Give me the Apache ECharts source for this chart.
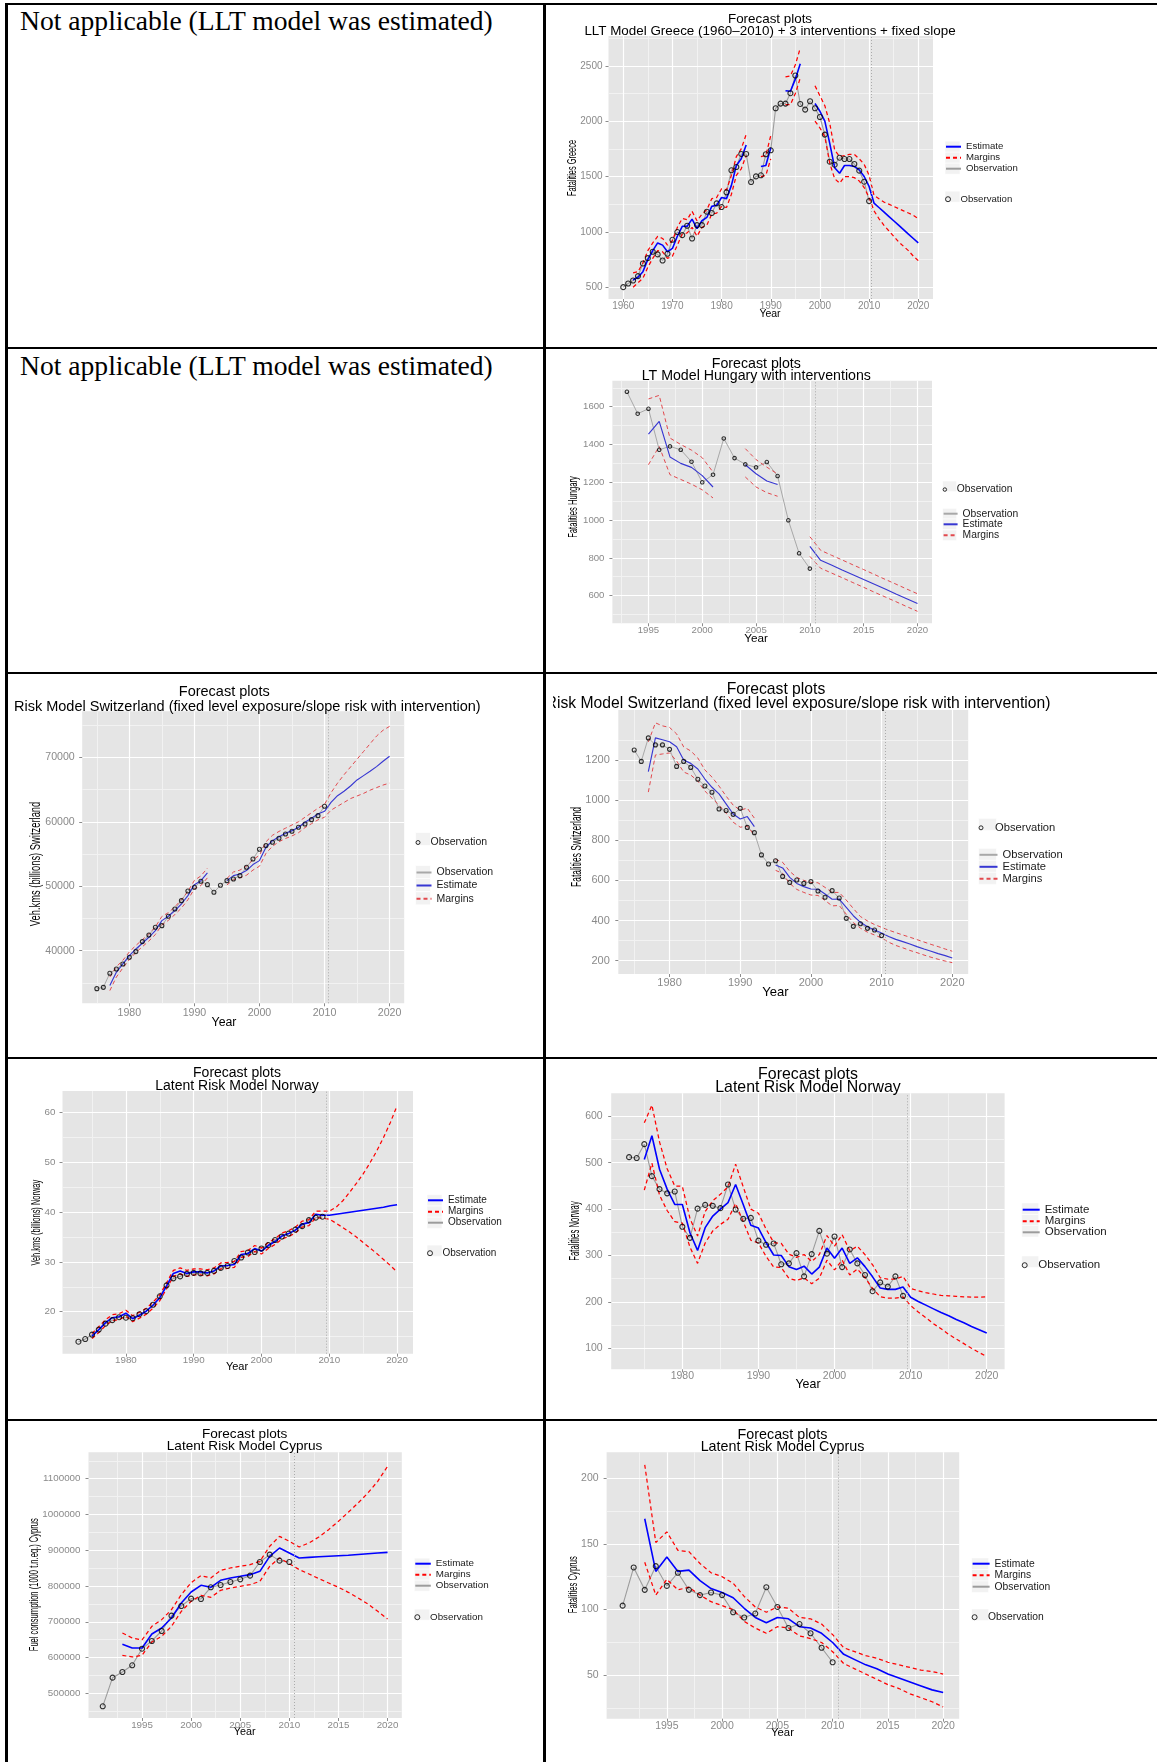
<!DOCTYPE html>
<html><head><meta charset="utf-8">
<script src="https://cdn.jsdelivr.net/npm/echarts@6/dist/echarts.min.js"></script>
<style>
html,body{margin:0;padding:0;background:#fff;}
#page{position:relative;width:1157px;height:1762px;overflow:hidden;background:#fff;}
.ln{position:absolute;background:#000;z-index:5;}
.cell-text{position:absolute;font-family:'Liberation Serif','Times New Roman',serif;font-size:27.6px;line-height:27.6px;color:#000;white-space:nowrap;}
.chart{position:absolute;background:#fff;overflow:hidden;}
</style></head><body><div id="page"></div>
<script>
// ---------------- DATA ----------------
const noteText = 'Not applicable (LLT model was estimated)';
const obsName = 'Observation', estName = 'Estimate', marName = 'Margins';

// Greece fatalities (years from 1960)
const greeceStart = 1960;
const greeceObs = [500,533,560,600,714,762,820,796,741,802, 928,998,970,1055,940,1061,1061,1182,1170,1257,
  1224,1357,1556,1586,1704,1704,1450,1501,1511,1701, 1737,2117,2159,2159,2253,2413,2156,2105,2180,2117,
  2038,1879,1634,1607,1670,1658,1658,1613,1553,1453, 1278];
const greeceEst = [null,null,565,590,640,750,830,900,880,820, 850,960,1050,1050,1115,1030,1100,1130,1230,1240,
  1310,1300,1420,1600,1660,1785,null,null,1590,1600, 1760,null,null,2275,2270,2380,2520,null,null,2160,
  2090,2000,1800,1580,1530,1600,1600,1590,1560,1500, 1410,1260,1220,1180,1140,1100,1060,1020,980,940, 900];
const greeceUp = [null,null,630,640,720,830,900,960,940,880, 920,1040,1120,1110,1185,1100,1160,1200,1300,1310,
  1390,1380,1510,1680,1750,1880,null,null,1680,1690, 1870,null,null,2400,2410,2510,2660,null,null,2320,
  2230,2140,1980,1740,1680,1690,1700,1700,1660,1610, 1510,1330,1300,1270,1250,1230,1210,1190,1170,1150, 1120];
const greeceLo = [null,null,500,540,580,680,760,830,820,760, 780,880,980,990,1040,960,1040,1060,1160,1170,
  1230,1220,1340,1510,1570,1690,null,null,1500,1510, 1660,null,null,2150,2150,2250,2390,null,null,2000,
  1940,1860,1620,1480,1440,1500,1500,1490,1460,1400, 1310,1190,1120,1060,1010,960,910,870,830,780, 740];
const greeceXTicks = [1960,1970,1980,1990,2000,2010,2020];
const greeceYTicks = [500,1000,1500,2000,2500];

// Hungary fatalities (years from 1993)
const hungaryStart = 1993;
const hungaryObs = [1679,1563,1589,1372,1390,1372,1309,1200,1240,1432, 1328,1295,1279,1307,1233,999,824,743];
const hungaryEst = [null,null,1455,1522,1334,1300,1279,1235,1175,null, null,1293,1245,1207,1188,null,null,861,787,762, 736,711,685,660,635,609,584,558];
const hungaryUp  = [null,null,1641,1660,1434,1400,1370,1330,1254,null, null,1378,1320,1280,1244,null,null,912,840,814, 789,763,738,712,686,661,635,610];
const hungaryLo  = [null,null,1293,1390,1240,1215,1190,1160,1117,null, null,1228,1175,1145,1126,null,null,808,745,720, 695,669,644,618,593,568,542,517];
const hungaryXTicks = [1995,2000,2005,2010,2015,2020];
const hungaryYTicks = [600,800,1000,1200,1400,1600];

// Switzerland (years from 1975)
const swissStart = 1975;
const swissKmObs = [34100,34300,36500,37150,37930,38970,39850,41400,42430,43620, 43880,45330,46470,47760,49260,49830,50760,50240,49050,50140,
  50860,51120,51640,52930,54230,55730,56300,56810,57430,58100, 58520,59140,59660,60330,60950,62400];
const swissKmEst = [null,null,34570,36640,37930,39220,40260,41140,42070,43100, 44660,45330,46210,47240,48540,50240,50860,52050,null,null,
  50860,51640,51900,52420,53350,53970,56040,57070,57690,58210, 58620,59140,59920,60540,61210,61620,63020,64050,64730,65550, 66490,67160,67830,68560,69380,70160];
const swissKmUp = [null,null,35900,37500,38500,39800,40800,41700,42600,43700, 45300,45900,46800,47900,49200,50900,51600,52800,null,null,
  51200,52200,52500,53100,54100,54800,56900,57900,58500,59000, 59500,60000,60700,61400,62100,62700,64500,66000,67300,68500, 69700,70900,72100,73300,74200,74800];
const swissKmLo = [null,null,33800,35900,37300,38600,39700,40600,41500,42500, 44000,44700,45600,46600,47900,49600,50100,51300,null,null,
  50200,51000,51300,51700,52500,53100,55100,56200,56900,57400, 57800,58300,59100,59700,60300,60700,61800,62400,63000,63600, 64000,64400,64900,65300,65700,66000];
const swissFatObs = [1250,1193,1310,1275,1275,1253,1168,1193,1163,1104, 1070,1039,956,948,929,959,864,838,727,682,
  698,620,590,602,585,594,547,516,549,512, 411,371,384,361,353,325];
const swissFatEst = [null,null,1142,1310,1301,1291,1266,1200,1183,1155, 1105,1064,1031,981,931,906,918,868,null,null,
  677,662,615,585,569,557,556,532,506,507, 466,424,391,369,353,338,320,306,295,283, 270,258,247,235,225,213];
const swissFatUp = [null,null,1290,1385,1370,1362,1330,1265,1245,1210, 1150,1115,1070,1020,975,950,960,910,null,null,
  705,690,645,615,600,590,588,565,540,540, 502,460,420,398,380,366,352,340,328,317, 305,293,281,270,258,247];
const swissFatLo = [null,null,1040,1225,1230,1235,1195,1140,1125,1095, 1045,1010,975,935,890,865,870,825,null,null,
  650,635,585,555,540,527,525,500,473,475, 432,390,362,342,328,313,292,276,264,251, 240,228,217,207,198,190];
const swissXTicks = [1980,1990,2000,2010,2020];
const swissKmYTicks = [40000,50000,60000,70000];
const swissFatYTicks = [200,400,600,800,1000,1200];

// Norway (years from 1973)
const norwayStart = 1973;
const norwayKmObs = [13.97,14.5,15.4,16.4,17.6,18.3,18.9,18.8,18.7,19.5, 20.1,21.4,23.1,25.3,26.7,27.1,27.6,27.8,27.7,27.8,
  28.2,28.8,29.2,30.2,30.9,31.9,32.0,32.7,33.4,34.4, 35.1,35.7,36.5,37.2,38.4,38.9,39.1];
const norwayKmEst = [null,null,15.1,16.4,17.8,18.8,19.0,19.7,18.6,19.3, 20.1,21.3,22.8,25.2,27.7,28.2,27.7,28.0,28.0,27.8,
  28.2,29.2,29.3,29.5,31.5,31.7,32.7,32.2,33.3,34.1, 35.2,35.7,36.4,37.6,37.9,39.6,39.4,39.4,39.6,39.8, 40.0,40.2,40.4,40.6,40.8,41.0,41.3,41.5];
const norwayKmUp = [null,null,15.6,17.0,18.4,19.4,19.6,20.3,19.2,19.9, 20.7,21.9,23.4,25.8,28.3,28.8,28.3,28.6,28.6,28.4,
  28.8,29.8,29.9,30.1,32.1,32.3,33.3,32.8,33.9,34.7, 35.8,36.3,37.0,38.2,38.5,40.2,40.2,40.2,41.0,42.3, 44.0,45.8,47.7,49.9,52.3,55.0,58.0,61.4];
const norwayKmLo = [null,null,14.6,15.8,17.2,18.2,18.4,19.1,18.0,18.7, 19.5,20.7,22.2,24.6,27.1,27.6,27.1,27.4,27.4,27.2,
  27.6,28.6,28.7,28.9,30.9,31.1,32.1,31.6,32.7,33.5, 34.6,35.1,35.8,37.0,37.3,38.9,38.8,38.6,37.8,36.9, 36.0,35.0,33.9,32.8,31.7,30.5,29.3,28.0];
const norwayFatObs = [512,510,540,471,443,434,438,362,338,401, 409,407,402,453,399,379,381,332,323,326,
  281,283,305,255,303,353,304,341,275,313, 283,258,223,242,233,255,213];
const norwayFatEst = [null,null,507,558,486,443,410,410,349,311, 360,385,400,414,453,410,365,359,328,301,
  300,276,270,277,260,275,316,294,316,283, 295,276,254,230,227,227,232,210,201,193, 185,177,170,162,155,147,140,133];
const norwayFatUp = [null,null,586,624,545,487,450,449,380,342, 395,418,432,448,497,448,400,391,357,328,
  326,303,296,302,287,302,343,320,345,310, 320,302,280,252,249,249,255,229,224,220, 217,214,213,212,211,210,210,211];
const norwayFatLo = [null,null,441,499,430,397,373,370,318,283, 327,353,367,378,412,373,333,327,298,275,
  274,251,246,252,239,251,290,269,290,258, 271,252,229,211,208,208,211,192,178,166, 153,142,130,120,110,100,91,82];
const norwayXTicks = [1980,1990,2000,2010,2020];
const norwayKmYTicks = [20,30,40,50,60];
const norwayFatYTicks = [100,200,300,400,500,600];

// Cyprus (years from 1991)
const cyprusStart = 1991;
const cyprusFuelObs = [463700,543800,559600,578300,624800,646300,674200,717100,744100,764600,
  763700,796300,802800,811200,818600,828900,867100,887600,870800,867100];
const cyprusFuelEst = [null,null,637000,626700,626700,665800,682600,710600,752500,783200,
  801900,796300,815900,822400,827000,831700,841000,882900,906200,892200, 878300,879900,881500,883000,884500,886000,888000,890000,892000,894000];
const cyprusFuelUp = [null,null,668600,654700,649100,687300,705900,733900,775800,809300,
  828900,822400,843800,850300,855000,859600,868900,910900,938800,924900, 909000,920200,937000,957500,980800,1005900,1032000,1060000,1092600,1134500];
const cyprusFuelLo = [null,null,606200,601600,606200,643500,659300,687300,729200,757200,
  773900,768300,787900,794400,799100,803700,813000,855000,878300,862400, 845700,833600,820500,808400,796300,782300,766500,749700,729200,707800];
const cyprusFatObs = [103,132,115,133,118,128,115,111,113,111, 98,94,97,117,102,86,89,82,71,60];
const cyprusFatEst = [null,null,169,129,140,129,130,122,116,113, 109,101,94,90,94,93,87,86,82,75, 66,62,58,55,51,48,45,42,39,37];
const cyprusFatUp  = [null,null,210,151,159,145,144,135,128,125, 120,110,102,98,102,101,94,93,89,81, 71,68,65,63,60,58,56,54,53,51];
const cyprusFatLo  = [null,null,136,111,123,115,117,111,106,103, 100,91,86,82,87,86,80,78,75,68, 59,55,51,47,43,40,36,33,30,26];
const cyprusXTicks = [1995,2000,2005,2010,2015,2020];
const cyprusFuelYTicks = [500000,600000,700000,800000,900000,1000000,1100000];
const cyprusFatYTicks = [50,100,150,200];

// ---------------- LAYOUT ----------------
const FONT = "'Liberation Sans', Arial, Helvetica, sans-serif";
const page = document.getElementById('page');
function addLine(x, y, w, h) {
  const d = document.createElement('div'); d.className = 'ln';
  d.style.cssText = `left:${x}px;top:${y}px;width:${w}px;height:${h}px`; page.appendChild(d);
}
function addNote(x, y) {
  const d = document.createElement('div'); d.className = 'cell-text';
  d.style.left = x + 'px'; d.style.top = y + 'px'; d.textContent = noteText; page.appendChild(d);
}
const BRIGHT = {est:'#0000FF', mar:'#FF0000', obs:'#9C9C9C', we:1.6, wm:1.25, wo:1.1, dash:[4,3]};
const MUTED  = {est:'#3737D2', mar:'#E2494E', obs:'#A8A8A8', we:1.15, wm:1.0, wo:1.0, dash:[4,3]};
const regularLegend = (a,b,c,d) => [[estName,a,0],[marName,b,0],[obsName,c,0],[obsName+' ',d,1]];
const swissLegend = (a,b,c,d) => [[obsName+' ',a,1],[obsName,b,0],[estName,c,0],[marName,d,0]];

const charts = [
 { box:[546,5,611,342], panel:[608.5,36,933,299], xr:[1957,2023], yr:[393,2770],
   xMaj:greeceXTicks, xMin:[1965,1975,1985,1995,2005,2015], yMaj:greeceYTicks, yMin:[750,1250,1750,2250,2750],
   start:greeceStart, obs:greeceObs, est:greeceEst, up:greeceUp, lo:greeceLo, vline:2010.5, col:BRIGHT, pt:5,
   t1:[770,19], t2:['LLT Model Greece (1960\u20132010) + 3 interventions + fixed slope',770,31,'center'], tfs:13.4,
   tick:{fs:10, xm:2.2, ym:6}, yT:['Fatalities Greece',572,168,13,0.57], yr2:[770,314,10.5],
   leg:{x:945, w:15, h:11, fs:9.6, items:regularLegend(146.7,157.7,168.7,196.7)} },
 { box:[546,349,611,323], panel:[612.4,380.7,932,623.3], xr:[1991.65,2021.35], yr:[453.6,1737.6],
   xMaj:hungaryXTicks, xMin:[1992.5,1997.5,2002.5,2007.5,2012.5,2017.5], yMaj:hungaryYTicks, yMin:[500,700,900,1100,1300,1500,1700],
   start:hungaryStart, obs:hungaryObs, est:hungaryEst, up:hungaryUp, lo:hungaryLo, vline:2010.5, col:MUTED, pt:3.5,
   t1:[756.3,363.7], t2:['LT Model Hungary with interventions',756.3,376.3,'center'], tfs:14.2,
   tick:{fs:9.6, xm:2.2, ym:8}, yT:['Fatalities Hungary',573,507,13.5,0.567], yr2:[756,638.7,11.7],
   leg:{x:942.6, w:14, h:10.6, fs:10.3, items:swissLegend(486.3,513.7,524.3,535.3)} },
 { box:[8,674,509,383], panel:[82.2,711.3,404.2,1003.3], xr:[1972.75,2022.25], yr:[31826,77143],
   xMaj:swissXTicks, xMin:[1975,1985,1995,2005,2015], yMaj:swissKmYTicks, yMin:[35000,45000,55000,65000,75000],
   start:swissStart, obs:swissKmObs, est:swissKmEst, up:swissKmUp, lo:swissKmLo, vline:2010.5, col:MUTED, pt:4,
   t1:[224.3,692.3], t2:['Risk Model Switzerland (fixed level exposure/slope risk with intervention)',480.6,707.3,'right'], tfs:14.5,
   tick:{fs:10.6, xm:3.8, ym:7.5}, yT:['Veh.kms (billions) Switzerland',36.4,864,14,0.67], yr2:[224,1023,12.3],
   leg:{x:415.5, w:15, h:13, fs:10.5, items:swissLegend(839,872,885,898.3)} },
 { box:[553,674,534,383], panel:[618.3,710,968.2,974], xr:[1972.75,2022.25], yr:[133.6,1449],
   xMaj:swissXTicks, xMin:[1975,1985,1995,2005,2015], yMaj:swissFatYTicks, yMin:[300,500,700,900,1100,1300],
   start:swissStart, obs:swissFatObs, est:swissFatEst, up:swissFatUp, lo:swissFatLo, vline:2010.5, col:MUTED, pt:4,
   t1:[776,689.7], t2:['Risk Model Switzerland (fixed level exposure/slope risk with intervention)',1050.4,704,'right'], tfs:15.7,
   tick:{fs:11, xm:3, ym:8.5}, yT:['Fatalities Switzerland',577,847,14.5,0.584], yr2:[775.5,992,13],
   leg:{x:978.5, w:18, h:12, fs:11.2, items:swissLegend(824.3,854.3,866.3,878.3)} },
 { box:[8,1059,535,360], panel:[62.5,1091,413,1353.7], xr:[1970.65,2022.35], yr:[11.56,64.36],
   xMaj:norwayXTicks, xMin:[1975,1985,1995,2005,2015], yMaj:norwayKmYTicks, yMin:[15,25,35,45,55],
   start:norwayStart, obs:norwayKmObs, est:norwayKmEst, up:norwayKmUp, lo:norwayKmLo, vline:2009.5, col:BRIGHT, pt:5,
   t1:[237,1073.3], t2:['Latent Risk Model Norway',237,1086,'center'], tfs:14,
   tick:{fs:9.8, xm:1.5, ym:7}, yT:['Veh.kms (billions) Norway',36.4,1222.7,13,0.574], yr2:[237,1367,11],
   leg:{x:427, w:15, h:11.2, fs:10, items:regularLegend(1200.3,1211.7,1222.7,1250.7)} },
 { box:[546,1059,611,360], panel:[611.2,1093.3,1004.6,1369.3], xr:[1970.65,2022.35], yr:[54.7,649.6],
   xMaj:norwayXTicks, xMin:[1975,1985,1995,2005,2015], yMaj:norwayFatYTicks, yMin:[150,250,350,450,550],
   start:norwayStart, obs:norwayFatObs, est:norwayFatEst, up:norwayFatUp, lo:norwayFatLo, vline:2009.5, col:BRIGHT, pt:5,
   t1:[808,1074.3], t2:['Latent Risk Model Norway',808,1087.7,'center'], tfs:15.9,
   tick:{fs:10.5, xm:1.6, ym:8.5}, yT:['Fatalities Norway',575,1231,14,0.555], yr2:[808,1384.3,12.4],
   leg:{x:1021.7, w:17, h:11.5, fs:11.5, items:regularLegend(1208.7,1220.3,1231.3,1261.7)} },
 { box:[8,1421,535,341], panel:[88.5,1452.3,401.8,1718], xr:[1989.55,2021.45], yr:[431054,1173620],
   xMaj:cyprusXTicks, xMin:[1992.5,1997.5,2002.5,2007.5,2012.5,2017.5], yMaj:cyprusFuelYTicks, yMin:[450000,550000,650000,750000,850000,950000,1050000,1150000],
   start:cyprusStart, obs:cyprusFuelObs, est:cyprusFuelEst, up:cyprusFuelUp, lo:cyprusFuelLo, vline:2010.5, col:BRIGHT, pt:5,
   t1:[244.6,1434.7], t2:['Latent Risk Model Cyprus',244.6,1446.7,'center'], tfs:13.6,
   tick:{fs:9.8, xm:1.9, ym:8}, yT:['Fuel consumption (1000 t.n.eq.) Cyprus',34.7,1584.7,12.5,0.606], yr2:[244.6,1732,10.8],
   leg:{x:414.3, w:15.5, h:11, fs:9.8, items:regularLegend(1563.7,1574.7,1585.7,1614.7)} },
 { box:[546,1421,611,341], panel:[606.6,1452.3,959.2,1718.7], xr:[1989.55,2021.45], yr:[17.1,219.5],
   xMaj:cyprusXTicks, xMin:[1992.5,1997.5,2002.5,2007.5,2012.5,2017.5], yMaj:cyprusFatYTicks, yMin:[25,75,125,175],
   start:cyprusStart, obs:cyprusFatObs, est:cyprusFatEst, up:cyprusFatUp, lo:cyprusFatLo, vline:2010.5, col:BRIGHT, pt:5,
   t1:[782.5,1434.7], t2:['Latent Risk Model Cyprus',782.5,1446.7,'center'], tfs:14.3,
   tick:{fs:10.5, xm:1.5, ym:8}, yT:['Fatalities Cyprus',573,1584.7,13,0.589], yr2:[782.5,1733,11.3],
   leg:{x:971.6, w:17, h:11.5, fs:10.3, items:regularLegend(1563.7,1575.3,1586.7,1614.7)} }
];

function pairs(start, arr) { return arr.map((v, i) => [start + i, v]); }

function buildChart(s) {
  const div = document.createElement('div');
  div.className = 'chart';
  div.style.cssText = `left:${s.box[0]}px;top:${s.box[1]}px;width:${s.box[2]}px;height:${s.box[3]}px`;
  page.appendChild(div);
  const ox = s.box[0], oy = s.box[1];
  const [L, T, R, B] = s.panel;
  const c = s.col;
  const labelColor = '#8A8A8A';
  const minorAxis = (range, vals, pos) => ({
    type:'value', gridIndex:0, min:range[0], max:range[1], position:pos, z:0,
    axisLine:{show:false}, axisTick:{show:false, customValues:vals},
    axisLabel:{show:false, customValues:vals}, splitLine:{show:true, lineStyle:{color:'#F2F2F2', width:1}}
  });
  const majorAxis = (range, vals, pos, margin) => ({
    type:'value', gridIndex:0, min:range[0], max:range[1], position:pos, z:1,
    axisLine:{show:false},
    axisTick:{show:true, length:3, customValues:vals, lineStyle:{color:'#8C8C8C', width:1}},
    axisLabel:{show:true, customValues:vals, margin:margin, fontSize:s.tick.fs, color:labelColor, fontFamily:FONT,
               formatter:(v) => String(v)},
    splitLine:{show:true, lineStyle:{color:'#FFFFFF', width:1.2}}
  });
  const txt = (text, x, y, fs, extra) => Object.assign({
    type:'text', x:x - ox, y:y - oy, silent:true,
    style:{text:text, fontSize:fs, fontFamily:FONT, fill:'#000', align:'center', verticalAlign:'middle',
           textAlign:'center', textVerticalAlign:'middle'}
  }, extra || {});
  const graphics = [];
  s.leg.items.forEach(it => {
    graphics.push({type:'rect', silent:true, z:-1,
      shape:{x:s.leg.x - ox, y:it[1] - oy - s.leg.h/2, width:s.leg.w, height:s.leg.h},
      style:{fill:'#F2F2F2', stroke:'#FFFFFF', lineWidth:0.6}});
  });
  graphics.push(txt(s.yT[0], s.yT[1], s.yT[2], s.yT[3], {rotation:Math.PI/2, scaleX:s.yT[4]}));
  graphics.push(txt('Year', s.yr2[0], s.yr2[1], s.yr2[2]));

  const legends = s.leg.items.map(it => {
    const isPt = it[2] === 1;
    const h = isPt ? s.pt : 10;
    return {
      show:true, orient:'horizontal', left:s.leg.x - ox, top:it[1] - oy - h/2, padding:0, itemGap:0,
      itemWidth:s.leg.w, itemHeight:h, selectedMode:false,
      data:[isPt ? {name:it[0], itemStyle:{borderWidth:1, borderColor:'#000', color:'rgba(0,0,0,0)'}}
                 : {name:it[0], itemStyle:{opacity:0}}],
      textStyle:{fontFamily:FONT, fontSize:s.leg.fs, color:'#1A1A1A'}
    };
  });

  const lineCommon = {type:'line', xAxisIndex:1, yAxisIndex:1, symbol:'none', showSymbol:false, silent:true, connectNulls:false};
  const option = {
    animation:false,
    textStyle:{fontFamily:FONT},
    title:[
      {text:'Forecast plots', left:s.t1[0] - ox, top:s.t1[1] - oy, textAlign:'center', textVerticalAlign:'middle', padding:0,
       textStyle:{fontSize:s.tfs, fontWeight:'normal', color:'#000', fontFamily:FONT}},
      {text:s.t2[0], left:s.t2[1] - ox, top:s.t2[2] - oy, textAlign:s.t2[3], textVerticalAlign:'middle', padding:0,
       textStyle:{fontSize:s.tfs, fontWeight:'normal', color:'#000', fontFamily:FONT}}
    ],
    grid:[{left:L - ox, top:T - oy, width:R - L, height:B - T, show:true, backgroundColor:'#E5E5E5', borderWidth:0, containLabel:false}],
    xAxis:[minorAxis(s.xr, s.xMin, 'bottom'), majorAxis(s.xr, s.xMaj, 'bottom', s.tick.xm)],
    yAxis:[minorAxis(s.yr, s.yMin, 'left'), majorAxis(s.yr, s.yMaj, 'left', s.tick.ym)],
    legend:legends,
    graphic:{elements:graphics},
    series:[
      Object.assign({}, lineCommon, {name:obsName, data:pairs(s.start, s.obs), z:2,
        lineStyle:{color:c.obs, width:c.wo}, itemStyle:{color:c.obs},
        markLine:{silent:true, symbol:['none','none'], label:{show:false}, animation:false,
          lineStyle:{color:'#ABABAB', type:[1,2], width:1}, data:[{xAxis:s.vline}]}}),
      Object.assign({}, lineCommon, {name:marName, data:pairs(s.start, s.up), z:3,
        lineStyle:{color:c.mar, width:c.wm, type:c.dash}, itemStyle:{color:c.mar}}),
      Object.assign({}, lineCommon, {name:marName, data:pairs(s.start, s.lo), z:3,
        lineStyle:{color:c.mar, width:c.wm, type:c.dash}, itemStyle:{color:c.mar}}),
      Object.assign({}, lineCommon, {name:estName, data:pairs(s.start, s.est), z:4,
        lineStyle:{color:c.est, width:c.we}, itemStyle:{color:c.est}}),
      {type:'scatter', name:obsName + ' ', xAxisIndex:1, yAxisIndex:1, silent:true, z:5,
        data:pairs(s.start, s.obs), symbol:'circle', symbolSize:s.pt,
        itemStyle:{color:'rgba(0,0,0,0)', borderColor:'#000', borderWidth:1.1}}
    ]
  };
  const chart = echarts.init(div, null, {renderer:'canvas', width:s.box[2], height:s.box[3]});
  chart.setOption(option);
}

charts.forEach(buildChart);

// table rules
addLine(5, 3, 1152, 2);
addLine(5, 3, 3, 1759);
addLine(543, 3, 3, 1759);
addLine(5, 347, 1152, 2);
addLine(5, 672, 1152, 2);
addLine(5, 1057, 1152, 2);
addLine(5, 1419, 1152, 2);
addNote(20, 6.5);
addNote(20, 352);
</script></body></html>
